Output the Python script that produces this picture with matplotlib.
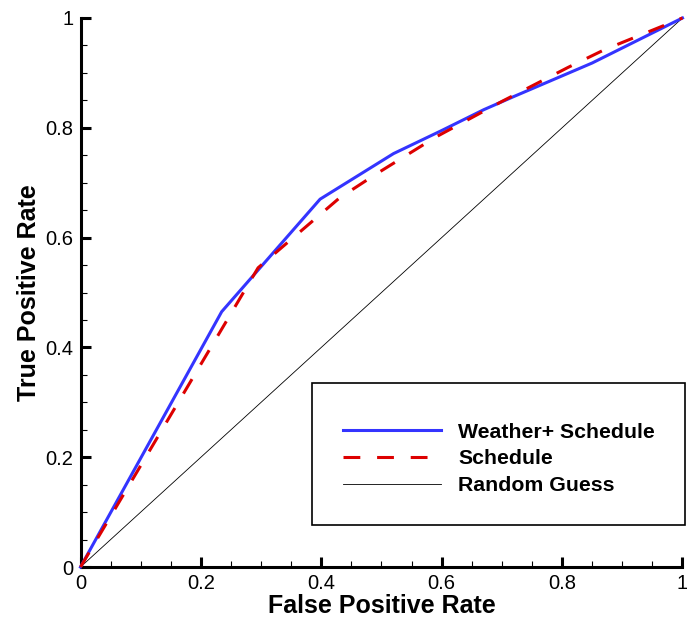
import matplotlib
matplotlib.use("Agg")
import matplotlib.pyplot as plt
from matplotlib.patches import Rectangle
from matplotlib.ticker import MultipleLocator, FixedFormatter, FixedLocator

plt.rcParams['font.family'] = ['Liberation Sans', 'DejaVu Sans']

# ROC curve data
fpr_weather = [0.0, 0.2345, 0.398, 0.52, 0.60, 0.67, 0.72, 0.85, 1.0]
tpr_weather = [0.0, 0.465, 0.670, 0.753, 0.795, 0.833, 0.857, 0.918, 1.0]

fpr_schedule = [0.0, 0.295, 0.43, 0.49, 0.59, 0.70, 0.81, 0.87, 1.0]
tpr_schedule = [0.0, 0.545, 0.672, 0.715, 0.783, 0.848, 0.910, 0.942, 1.0]

fpr_random = [0.0, 1.0]
tpr_random = [0.0, 1.0]

tick_values = [0, 0.2, 0.4, 0.6, 0.8, 1]
tick_labels = ["0", "0.2", "0.4", "0.6", "0.8", "1"]

fig = plt.figure(figsize=(6.87, 6.24), dpi=100)
ax = fig.add_axes([0.1172, 0.0913, 0.8762, 0.8799])

l1, = ax.plot(fpr_weather, tpr_weather, color='#3434ff', lw=2.2,
              solid_joinstyle='round', clip_on=False, zorder=4)
l2, = ax.plot(fpr_schedule, tpr_schedule, color='#dd0000', lw=2.2,
              linestyle=(0, (5.5, 5.5)), clip_on=False, zorder=5)
l3, = ax.plot(fpr_random, tpr_random, color='black', lw=0.6,
              clip_on=False, zorder=3)

ax.set_xlim(0, 1)
ax.set_ylim(0, 1)

for side in ('top', 'right'):
    ax.spines[side].set_visible(False)
for side in ('left', 'bottom'):
    ax.spines[side].set_linewidth(2.2)
    ax.spines[side].set_capstyle('projecting')

ax.xaxis.set_major_locator(FixedLocator(tick_values))
ax.yaxis.set_major_locator(FixedLocator(tick_values))
ax.xaxis.set_major_formatter(FixedFormatter(tick_labels))
ax.yaxis.set_major_formatter(FixedFormatter(tick_labels))
ax.xaxis.set_minor_locator(MultipleLocator(0.05))
ax.yaxis.set_minor_locator(MultipleLocator(0.05))
ax.tick_params(which='major', direction='in', length=7, width=2.2,
               labelsize=14.5, pad=5, top=False, right=False)
ax.tick_params(which='minor', direction='in', length=4, width=0.8,
               top=False, right=False)

ax.set_xlabel('False Positive Rate', fontsize=18, fontweight='bold', labelpad=1)
ax.set_ylabel('True Positive Rate', fontsize=18, fontweight='bold', labelpad=3)

# legend box
frame = Rectangle((0.385, 0.0765), 0.62, 0.2595, transform=ax.transAxes,
                  fill=False, edgecolor='black', lw=1.2, clip_on=False, zorder=6)
ax.add_patch(frame)
leg = ax.legend([l1, l2, l3], ['Weather+ Schedule', 'Schedule', 'Random Guess'],
                loc='center left', bbox_to_anchor=(0.4365, 0.197),
                frameon=False, borderpad=0, borderaxespad=0,
                handlelength=4.6, handletextpad=0.8, labelspacing=0.36,
                prop={'size': 15.3, 'weight': 'bold'})
leg.set_zorder(7)

fig.savefig('out.png', dpi=100, facecolor='white')
